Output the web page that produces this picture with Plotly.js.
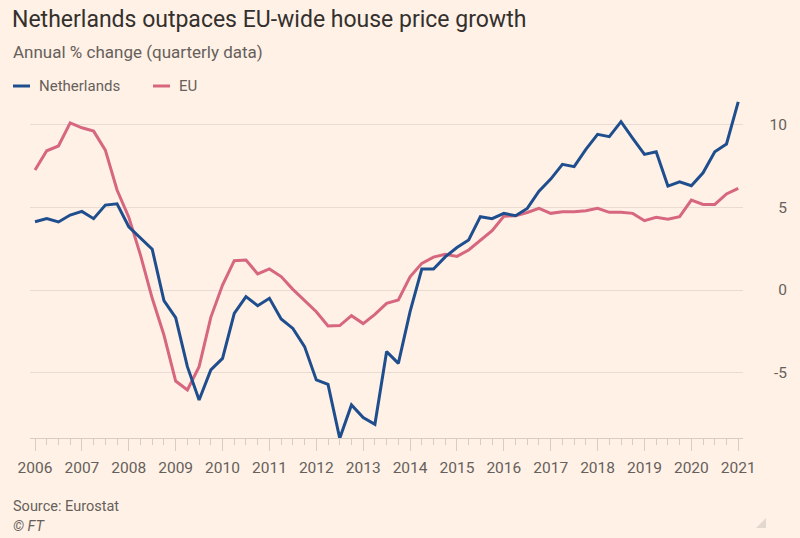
<!DOCTYPE html>
<html>
<head>
<meta charset="utf-8">
<script src="https://cdn.plot.ly/plotly-3.0.1.min.js"></script>
<style>
  html, body { margin: 0; padding: 0; background: #FFF1E5; }
  #chart { width: 800px; height: 538px; }
</style>
</head>
<body>
<div id="chart"></div>
<script>
// ---- data (annual % change, quarterly, 2006 Q1 .. 2021 Q1) ----
const startYear = 2006;
const netherlands = [
  4.12, 4.31, 4.11, 4.53, 4.75, 4.31, 5.13, 5.21, 3.82, 3.15,
  2.46, -0.64, -1.67, -4.63, -6.64, -4.83, -4.13, -1.41, -0.40, -0.95,
  -0.50, -1.75, -2.32, -3.42, -5.43, -5.70, -8.96, -6.94, -7.71, -8.11,
  -3.72, -4.43, -1.31, 1.27, 1.27, 2.00, 2.57, 3.02, 4.43, 4.31,
  4.63, 4.49, 4.93, 5.97, 6.70, 7.59, 7.45, 8.50, 9.40, 9.26,
  10.17, 9.16, 8.19, 8.35, 6.28, 6.54, 6.30, 7.08, 8.35, 8.82,
  11.37
];
const eu = [
  7.25, 8.41, 8.70, 10.10, 9.80, 9.60, 8.45, 6.04, 4.40, 2.11,
  -0.50, -2.72, -5.50, -6.04, -4.63, -1.65, 0.30, 1.77, 1.81, 0.97,
  1.27, 0.81, 0.04, -0.64, -1.31, -2.17, -2.15, -1.55, -2.03, -1.47,
  -0.81, -0.60, 0.80, 1.61, 1.99, 2.16, 2.03, 2.42, 3.00, 3.59,
  4.46, 4.48, 4.68, 4.93, 4.63, 4.73, 4.73, 4.79, 4.93, 4.69,
  4.69, 4.63, 4.19, 4.39, 4.27, 4.43, 5.43, 5.17, 5.17, 5.80,
  6.14
];
const seriesNames = ["Netherlands", "EU"];
const seriesColors = ["#1F4E8E", "#D6677F"];
const yearTicks = [2006, 2007, 2008, 2009, 2010, 2011, 2012, 2013, 2014, 2015, 2016, 2017, 2018, 2019, 2020, 2021];
const yTicks = [-5, 0, 5, 10];

// quarter positions on the time axis (decimal years)
const quarters = netherlands.map((_, i) => startYear + i / 4);

const W = 800, H = 538;

const traces = [netherlands, eu].map((vals, k) => ({
  type: "scatter",
  mode: "lines",
  x: quarters,
  y: vals,
  name: seriesNames[k],
  line: { color: seriesColors[k], width: 3, shape: "linear" },
  hoverinfo: "x+y+name",
  cliponaxis: false
}));
// draw EU first so Netherlands sits on top
traces.reverse();

const font = "Roboto, 'Noto Sans', sans-serif";
const greyText = "#66605C";

// plot-area geometry in pixels
const plotL = 30, plotR = 790, plotT = 95, plotB = 438;
const gridRight = 743;
const pw = plotR - plotL, ph = plotB - plotT;
const toPX = (x) => (x - plotL) / pw;
const toPY = (y) => (plotB - y) / ph;

const legendAnn = [];
const legendShapes = [];
const legendPos = [{ sx: 13, tx: 39 }, { sx: 153, tx: 179 }];
seriesNames.forEach((n, k) => {
  legendShapes.push({
    type: "line", xref: "paper", yref: "paper",
    x0: toPX(legendPos[k].sx), x1: toPX(legendPos[k].sx + 17),
    y0: toPY(86), y1: toPY(86),
    line: { color: seriesColors[k], width: 3 }
  });
  legendAnn.push({
    text: n, xref: "paper", yref: "paper",
    x: toPX(legendPos[k].tx - 2), y: toPY(86),
    xanchor: "left", yanchor: "middle", showarrow: false,
    font: { family: font, size: 15, color: greyText }
  });
});

const layout = {
  width: W, height: H,
  paper_bgcolor: "#FFF1E5",
  plot_bgcolor: "#FFF1E5",
  margin: { l: plotL, r: W - plotR, t: plotT, b: H - plotB, pad: 0 },
  showlegend: false,
  title: {
    text: "Netherlands outpaces EU-wide house price growth",
    xref: "container", yref: "container",
    x: 12 / W, xanchor: "left",
    y: 1 - 19 / H, yanchor: "middle",
    font: { family: font, size: 23, color: "#33302E" }
  },
  xaxis: {
    type: "linear",
    domain: [0, (gridRight - plotL) / pw],
    range: [2005.893, 2021.102],
    tickvals: yearTicks,
    ticktext: yearTicks.map(String),
    ticks: "outside", ticklen: 12, tickwidth: 1, tickcolor: "#D9CDC2",
    minor: { dtick: 0.25, tick0: 2006, ticks: "outside", ticklen: 6, tickwidth: 1, tickcolor: "#D9CDC2", showgrid: false },
    showline: true, linecolor: "#D9CDC2", linewidth: 1,
    showgrid: false, zeroline: false,
    tickfont: { family: font, size: 15.5, color: greyText },
    ticklabelstandoff: 3,
    fixedrange: true
  },
  yaxis: {
    range: [-8.94, 11.78],
    side: "right",
    anchor: "free",
    position: 1,
    ticklabelposition: "inside",
    tickvals: yTicks,
    ticktext: yTicks.map(String),
    ticks: "",
    showgrid: true, gridcolor: "#E8DCD2", gridwidth: 1,
    zeroline: false, showline: false,
    tickfont: { family: font, size: 15.5, color: greyText },
    fixedrange: true
  },
  shapes: [
    {
      type: "path", xref: "paper", yref: "paper",
      path: "M" + toPX(766) + "," + toPY(518) +
            " L" + toPX(766) + "," + toPY(528) +
            " L" + toPX(756) + "," + toPY(528) + " Z",
      line: { width: 0 }, fillcolor: "#E3D8CE"
    }
  ].concat(legendShapes),
  annotations: [
    {
      text: "Annual % change (quarterly data)", xref: "paper", yref: "paper",
      x: toPX(11), y: toPY(52), xanchor: "left", yanchor: "middle", showarrow: false,
      font: { family: font, size: 17, color: greyText }
    },
    {
      text: "Source: Eurostat", xref: "paper", yref: "paper",
      x: toPX(11), y: toPY(506), xanchor: "left", yanchor: "middle", showarrow: false,
      font: { family: font, size: 14.5, color: greyText }
    },
    {
      text: "<i>© FT</i>", xref: "paper", yref: "paper",
      x: toPX(11), y: toPY(526), xanchor: "left", yanchor: "middle", showarrow: false,
      font: { family: font, size: 14.5, color: greyText }
    }
  ].concat(legendAnn)
};

Plotly.newPlot("chart", traces, layout, { displayModeBar: false, staticPlot: true });
</script>
</body>
</html>
